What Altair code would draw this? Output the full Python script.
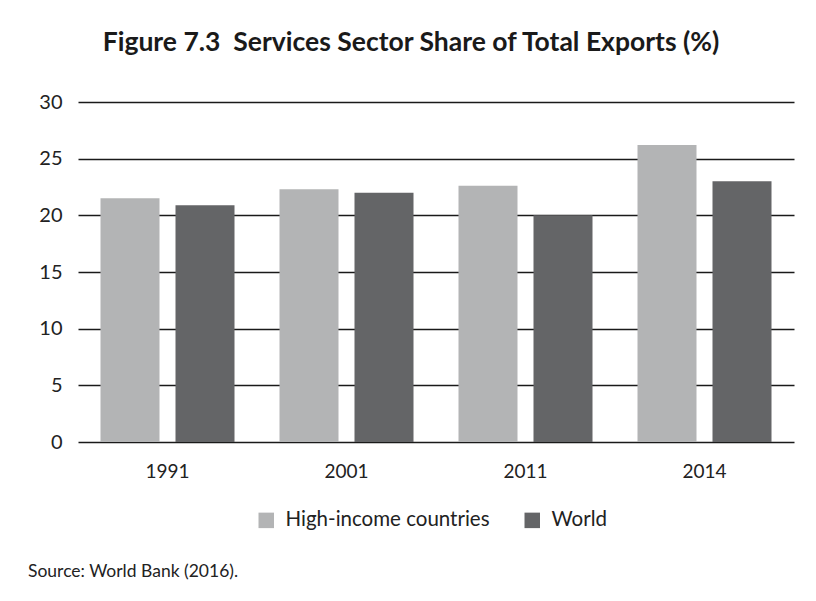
import altair as alt
import pandas as pd

years = ["1991", "2001", "2011", "2014"]
series = ["High-income countries", "World"]
high_income = [21.5, 22.3, 22.6, 26.2]
world = [20.9, 22.0, 20.0, 23.0]
y_ticks = [0, 5, 10, 15, 20, 25, 30]
colors = ["#b3b4b5", "#646567"]

title_text = "Figure 7.3\u00a0\u00a0Services Sector Share of Total Exports (%)"
source_text = "Source: World Bank (2016)."

rows = []
for i, yr in enumerate(years):
    rows.append({"year": yr, "series": series[0], "value": high_income[i]})
    rows.append({"year": yr, "series": series[1], "value": world[i]})
df = pd.DataFrame(rows)

FONT = "Lato"

bars = alt.Chart(df).mark_bar().encode(
    x=alt.X("year:N", sort=years,
            scale=alt.Scale(paddingInner=0, paddingOuter=0),
            axis=alt.Axis(title=None, labelAngle=0, ticks=False, domain=False,
                          grid=False, labelFontSize=19, labelPadding=20,
                          labelFont=FONT, labelColor="#222222")),
    xOffset=alt.XOffset("series:N", sort=series,
                        scale=alt.Scale(paddingInner=0.2133, paddingOuter=0.3)),
    y=alt.Y("value:Q", scale=alt.Scale(domain=[0, 30], nice=False),
            axis=alt.Axis(title=None, values=y_ticks, ticks=False, domain=False,
                          grid=True, gridColor="#1a1a1a", gridWidth=1.6,
                          gridOpacity=1, labelFontSize=20, labelPadding=16,
                          labelFont=FONT, labelColor="#222222")),
    color=alt.Color("series:N", sort=series,
                    scale=alt.Scale(domain=series, range=colors),
                    legend=alt.Legend(title=None, orient="none", direction="horizontal",
                                      legendX=178, legendY=408,
                                      symbolType="square", symbolSize=240,
                                      symbolStrokeWidth=0, symbolOpacity=1,
                                      labelFontSize=20.5, labelFont=FONT,
                                      labelColor="#222222", labelOffset=9,
                                      labelLimit=0, columnPadding=32)),
)

txt_df = pd.DataFrame({"t": [title_text]})
title = alt.Chart(txt_df).mark_text(
    font=FONT, fontSize=26.5, fontWeight="bold", color="#1a1a1a",
    align="center", baseline="alphabetic"
).encode(text="t:N", x=alt.value(333), y=alt.value(-51))

src_df = pd.DataFrame({"t": [source_text]})
source = alt.Chart(src_df).mark_text(
    font=FONT, fontSize=17.5, color="#222222", align="left", baseline="middle"
).encode(text="t:N", x=alt.value(-50), y=alt.value(470))

chart = alt.layer(bars, title, source).properties(
    width=716, height=340,
    padding={"left": 70, "top": 94, "right": 14, "bottom": 150},
    autosize=alt.AutoSizeParams(type="none"),
).configure(background="white").configure_view(stroke=None, strokeWidth=0)

chart.save("out.html", embed_options={"renderer": "svg", "actions": False})
